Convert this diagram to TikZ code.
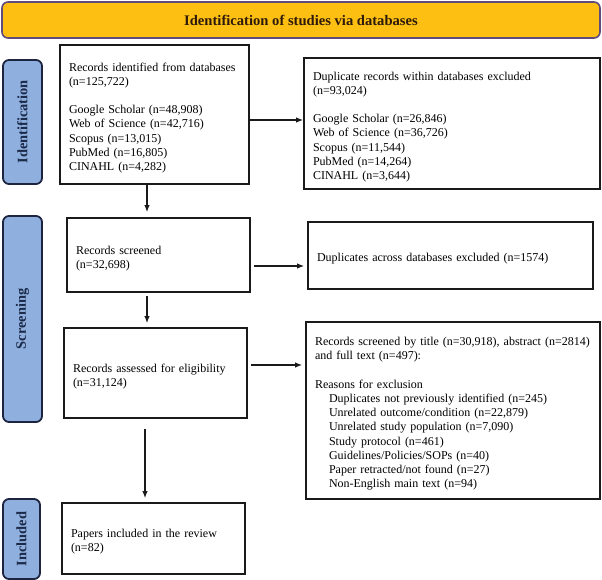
\documentclass[tikz,border=0pt]{standalone}
\usepackage{fontspec}
\setmainfont{Liberation Serif}
\usetikzlibrary{arrows.meta,calc}
\definecolor{titlefill}{HTML}{FCBF12}
\definecolor{titleborder}{HTML}{5E4B7C}
\definecolor{titletext}{HTML}{2E1A0A}
\definecolor{labfill}{HTML}{8FB0DE}
\definecolor{labborder}{HTML}{1C2440}
\definecolor{labtext}{HTML}{1C2A4A}
\definecolor{boxline}{HTML}{1A1A1A}
\begin{document}
\begin{tikzpicture}[x=1pt,y=-1pt,
  flowbox/.style={draw=boxline, line width=1.8pt, fill=white, inner xsep=9pt, inner ysep=0pt,
    align=left, font=\fontsize{12}{14.2}\selectfont, anchor=center,
    execute at begin node={\rule{0pt}{15pt}}},
  sidelab/.style={draw=labborder, line width=1.8pt, fill=labfill, rounded corners=6pt,
    inner sep=0pt, font=\bfseries\fontsize{14.4}{16}\selectfont, text=labtext, rotate=90},
  titlebar/.style={draw=titleborder, line width=1.6pt, fill=titlefill, rounded corners=6pt,
    inner sep=0pt, font=\bfseries\fontsize{14.6}{16}\selectfont, text=titletext},
  arr/.style={-{Latex[length=7pt,width=5.5pt]}, line width=1.2pt, draw=boxline}
]
\useasboundingbox (0,0) rectangle (602,580);

\node[titlebar, minimum width=598pt, minimum height=36pt] (title) at (301,20) {Identification of studies via databases};

\node[sidelab, minimum width=124pt, minimum height=39pt] (lid) at (22.5,122) {Identification};
\node[sidelab, minimum width=206pt, minimum height=39pt] (lsc) at (22.5,319) {Screening};
\node[sidelab, minimum width=80pt, minimum height=37pt] (lin) at (21.5,539) {Included};

\node[flowbox, text width=171pt, minimum height=139pt] (box1) at (154.5,114.5) {Records identified from databases\\(n=125,722)\\[14.2pt]Google Scholar (n=48,908)\\Web of Science (n=42,716)\\Scopus (n=13,015)\\PubMed (n=16,805)\\CINAHL (n=4,282)};

\node[flowbox, text width=278pt, minimum height=131pt] (dup) at (452,123.5) {Duplicate records within databases excluded\\(n=93,024)\\[14.2pt]Google Scholar (n=26,846)\\Web of Science (n=36,726)\\Scopus (n=11,544)\\PubMed (n=14,264)\\CINAHL (n=3,644)};

\node[flowbox, text width=165pt, minimum height=74pt] (screened) at (158.5,255) {Records screened\\(n=32,698)};

\node[flowbox, text width=267pt, minimum height=67pt] (across) at (450.5,255.5) {Duplicates across databases excluded (n=1574)};

\node[flowbox, text width=165pt, minimum height=90pt] (assessed) at (155.5,373) {Records assessed for eligibility\\(n=31,124)};

\node[flowbox, text width=276pt, minimum height=177pt] (excl) at (453,410.5) {\mbox{Records screened by title (n=30,918), abstract (n=2814)}\\and full text (n=497):\\[14.2pt]Reasons for exclusion\\
\hspace*{14pt}Duplicates not previously identified (n=245)\\
\hspace*{14pt}Unrelated outcome/condition (n=22,879)\\
\hspace*{14pt}Unrelated study population (n=7,090)\\
\hspace*{14pt}Study protocol (n=461)\\
\hspace*{14pt}Guidelines/Policies/SOPs (n=40)\\
\hspace*{14pt}Paper retracted/not found (n=27)\\
\hspace*{14pt}Non-English main text (n=94)};

\node[flowbox, text width=165pt, minimum height=71pt] (included) at (153.5,538.5) {Papers included in the review\\(n=82)};

\coordinate (a1) at ($(box1.east)+(0,5.5)$);
\draw[arr] (a1) -- (a1 -| dup.west);

\coordinate (a2) at ($(box1.south)+(-7.5,0)$);
\draw[arr] (a2) -- ($(a2 |- screened.north)+(0,-5)$);

\coordinate (a3) at ($(screened.east)+(3,11)$);
\draw[arr] (a3) -- ($(a3 -| across.west)+(-3,0)$);

\coordinate (a4) at ($(screened.south)+(-11.5,3)$);
\draw[arr] (a4) -- ($(a4 |- assessed.north)+(0,-4)$);

\coordinate (a5) at ($(assessed.east)+(3,-8)$);
\draw[arr] (a5) -- ($(a5 -| excl.west)+(-3,0)$);

\coordinate (a6) at ($(assessed.south)+(-10.5,10)$);
\draw[arr] (a6) -- ($(a6 |- included.north)+(0,-4)$);
\end{tikzpicture}
\end{document}
